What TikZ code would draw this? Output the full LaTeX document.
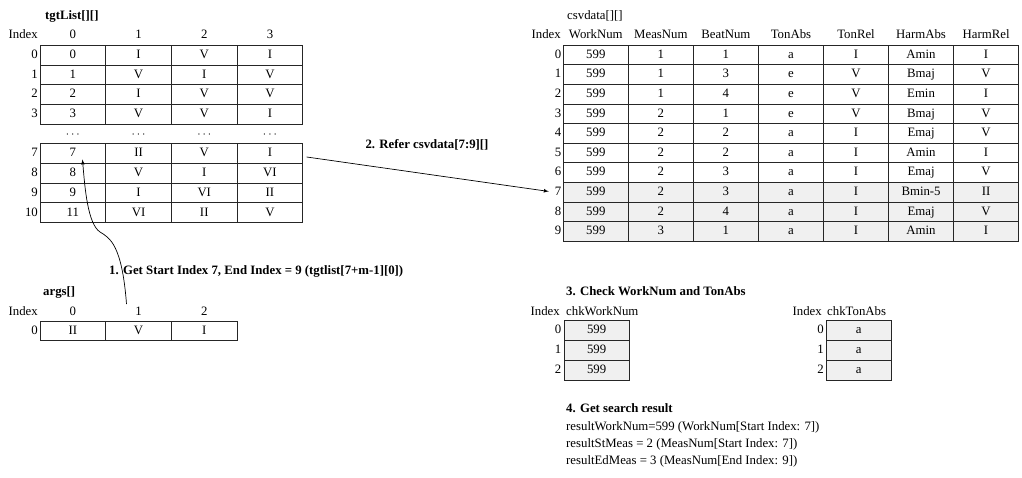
\documentclass[tikz,border=0pt]{standalone}
\usepackage{fontspec}
\setmainfont{Liberation Serif}
\begin{document}
\begin{tikzpicture}[x=1pt,y=-1pt,>=latex,
	every node/.style={font=\fontsize{12.8}{15}\selectfont,inner sep=0pt,text height=9.3pt,text depth=2.7pt},
	idx/.style={anchor=east},
	steplabel/.style={font=\fontsize{12.8}{15}\selectfont\bfseries},
	tcell/.style={draw=black!85,line width=0.9pt,minimum width=65.7,minimum height=19.7},
	ccell/.style={draw=black!85,line width=0.9pt,minimum width=65.05,minimum height=19.6},
	hcell/.style={ccell,fill=black!6},
	kcell/.style={draw=black!85,line width=0.9pt,fill=black!6,minimum width=65.3,minimum height=19.8}]
	\useasboundingbox (0,0) rectangle (1022,478);
	\node[steplabel,anchor=west] (tgtname) at (45,16) {tgtList[][]};
	\node[idx] (thidx) at (38,35.5) {Index};
	\foreach \c in {0,...,3}
	\node (th\c) at ({72.85+65.7*\c},35.5) {\c};
	\foreach \s/\r/\vals in {0/0/{0,I,V,I},1/1/{1,V,I,V},2/2/{2,I,V,V},3/3/{3,V,V,I},
		5/7/{7,II,V,I},6/8/{8,V,I,VI},7/9/{9,I,VI,II},8/10/{11,VI,II,V}}{
		\node[idx] (ti\r) at (38,{55.15+19.7*\s}) {\r};
		\foreach \v [count=\c from 0] in \vals
		\node[tcell] (t\r-\c) at ({72.85+65.7*\c},{55.15+19.7*\s}) {\v};
	}
	\foreach \c in {0,...,3}
	\node (tdots\c) at ({72.85+65.7*\c},134.2) {$\cdots$};
	\node[steplabel,anchor=west] (argname) at (43,292) {args[]};
	\node[idx] (ahidx) at (38,312) {Index};
	\foreach \c in {0,1,2}
	\node (ah\c) at ({72.85+65.7*\c},312) {\c};
	\node[idx] (ai0) at (38,330.7) {0};
	\foreach \v [count=\c from 0] in {II,V,I}
	\node[tcell,minimum height=19.5] (a0-\c) at ({72.85+65.7*\c},330.7) {\v};
	\node[anchor=west] (csvname) at (567,16) {csvdata[][]};
	\node[idx] (chidx) at (561,35.5) {Index};
	\foreach \h [count=\c from 0] in {WorkNum,MeasNum,BeatNum,TonAbs,TonRel,HarmAbs,HarmRel}
	\node (ch\c) at ({595.8+65.05*\c},35.5) {\h};
	\foreach \r/\sty/\vals in {0/ccell/{599,1,1,a,I,Amin,I},1/ccell/{599,1,3,e,V,Bmaj,V},
		2/ccell/{599,1,4,e,V,Emin,I},3/ccell/{599,2,1,e,V,Bmaj,V},4/ccell/{599,2,2,a,I,Emaj,V},
		5/ccell/{599,2,2,a,I,Amin,I},6/ccell/{599,2,3,a,I,Emaj,V},7/hcell/{599,2,3,a,I,Bmin-5,II},
		8/hcell/{599,2,4,a,I,Emaj,V},9/hcell/{599,3,1,a,I,Amin,I}}{
		\node[idx] (ci\r) at (561.5,{55.1+19.6*\r}) {\r};
		\foreach \v [count=\c from 0] in \vals
		\node[\sty] (c\r-\c) at ({595.8+65.05*\c},{55.1+19.6*\r}) {\v};
	}
	\coordinate (refstart) at (306.7,157);
	\draw[->,line width=0.7pt] (refstart) -- (ci7.west) [shorten >=6pt];
	\node[steplabel] (reflabel) at (427,145) {2. Refer csvdata[7:9][]};
	\coordinate (getstart) at (126.5,304);
	\coordinate (gettip) at (82.5,159.5);
	\draw[->,line width=0.7pt] (getstart) .. controls (122,245) and (110,238) .. (100,232)
	.. controls (88,224) and (85,190) .. (gettip);
	\node[steplabel,anchor=west] (getlabel) at (109,271.5) {1. Get Start Index 7, End Index = 9 (tgtlist[7+m-1][0])};
	\node[steplabel,anchor=west] (chklabel) at (566,292) {3. Check WorkNum and TonAbs};
	\node[idx] (kwidx) at (560,312) {Index};
	\node[anchor=west] (kwname) at (566,312) {chkWorkNum};
	\node[idx] (ktidx) at (822,312) {Index};
	\node[anchor=west] (ktname) at (827,312) {chkTonAbs};
	\foreach \r in {0,1,2}{
		\node[idx] (kwi\r) at (561.5,{330.6+19.8*\r}) {\r};
		\node[kcell] (kw\r) at (596.6,{330.6+19.8*\r}) {599};
		\node[idx] (kti\r) at (824,{330.6+19.8*\r}) {\r};
		\node[kcell] (kt\r) at (858.8,{330.6+19.8*\r}) {a};
	}
	\node[steplabel,anchor=west] (reslabel) at (566,409.3) {4. Get search result};
	\node[anchor=west] (res1) at (566,426.7) {resultWorkNum=599 (WorkNum[Start Index: 7])};
	\node[anchor=west] (res2) at (566,444) {resultStMeas = 2 (MeasNum[Start Index: 7])};
	\node[anchor=west] (res3) at (566,461.6) {resultEdMeas = 3 (MeasNum[End Index: 9])};
\end{tikzpicture}
\end{document}
